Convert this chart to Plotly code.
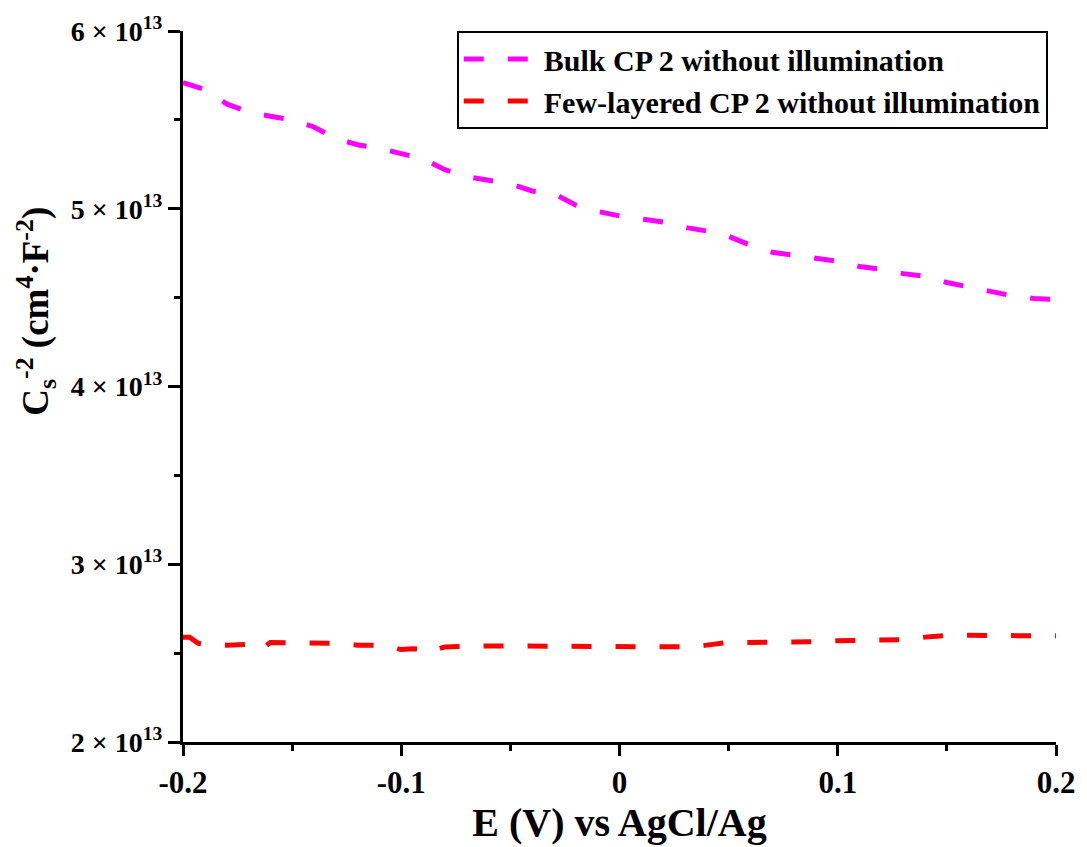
import plotly.graph_objects as go

# ---- data ----
E_bulk = [-0.2, -0.19, -0.18, -0.17, -0.16, -0.15, -0.14, -0.135, -0.13, -0.12, -0.11,
          -0.10, -0.09, -0.08, -0.07, -0.06, -0.05, -0.04, -0.035, -0.03, -0.02, -0.01,
          0.0, 0.01, 0.02, 0.03, 0.04, 0.05, 0.06, 0.07, 0.08, 0.09, 0.10, 0.11, 0.12,
          0.13, 0.14, 0.15, 0.16, 0.17, 0.18, 0.19, 0.20]
C_bulk = [5.71, 5.67, 5.59, 5.545, 5.52, 5.50, 5.46, 5.43, 5.395, 5.36, 5.34,
          5.31, 5.28, 5.22, 5.18, 5.16, 5.14, 5.10, 5.095, 5.085, 5.02, 4.985,
          4.96, 4.945, 4.925, 4.895, 4.875, 4.845, 4.795, 4.755, 4.74, 4.725, 4.705, 4.675, 4.66,
          4.635, 4.62, 4.585, 4.56, 4.53, 4.51, 4.495, 4.49]

E_few = [-0.2, -0.197, -0.193, -0.19, -0.18, -0.17, -0.165, -0.1625, -0.16, -0.15, -0.14,
         -0.13, -0.12, -0.11, -0.105, -0.10, -0.095, -0.09, -0.087, -0.084, -0.08, -0.07,
         -0.06, -0.05, -0.04, -0.03, -0.02, -0.01, 0.0, 0.01, 0.02, 0.03, 0.04, 0.05,
         0.06, 0.07, 0.08, 0.09, 0.10, 0.11, 0.12, 0.13, 0.14, 0.15, 0.16, 0.17, 0.18,
         0.19, 0.20]
C_few = [2.59, 2.59, 2.555, 2.55, 2.545, 2.55, 2.56, 2.535, 2.56, 2.56, 2.56,
         2.555, 2.545, 2.545, 2.535, 2.52, 2.525, 2.52, 2.535, 2.52, 2.535, 2.54,
         2.54, 2.54, 2.54, 2.54, 2.54, 2.535, 2.535, 2.54, 2.54, 2.535, 2.545, 2.56,
         2.56, 2.56, 2.565, 2.565, 2.57, 2.57, 2.57, 2.575, 2.59, 2.60, 2.60, 2.60, 2.60,
         2.597, 2.597]

SCALE = 1e13
y_ticks = [2, 3, 4, 5, 6]
y_ticktext = ["<b>2 × 10<sup>13</sup></b>", "<b>3 × 10<sup>13</sup></b>",
              "<b>4 × 10<sup>13</sup></b>", "<b>5 × 10<sup>13</sup></b>",
              "<b>6 × 10<sup>13</sup></b>"]
x_ticks = [-0.2, -0.1, 0, 0.1, 0.2]
x_ticktext = ["-0.2", "-0.1", "0", "0.1", "0.2"]

FONT = "Liberation Serif"

fig = go.Figure()
fig.add_trace(go.Scatter(
    x=E_bulk, y=[v * SCALE for v in C_bulk], mode="lines",
    name="<b>Bulk CP 2 without illumination</b>",
    line=dict(color="#FF00FF", width=5, dash="20px,24px"),
))
fig.add_trace(go.Scatter(
    x=E_few, y=[v * SCALE for v in C_few], mode="lines",
    name="<b>Few-layered CP 2 without illumination</b>",
    line=dict(color="#FF0000", width=5, dash="20px,24px"),
))

fig.update_layout(
    width=1087, height=847,
    margin=dict(l=183, r=27, t=31, b=105),
    paper_bgcolor="white", plot_bgcolor="white",
    font=dict(family=FONT, color="black"),
    legend=dict(
        x=0.3136, y=1.0, xanchor="left", yanchor="top",
        bordercolor="black", borderwidth=2, bgcolor="white",
        font=dict(family=FONT, size=30, color="black"),
        itemwidth=75, tracegroupgap=0,
    ),
    showlegend=True,
    annotations=[dict(
        text="<b>C<sub>s</sub><sup>-2</sup> (cm<sup>4</sup>·F<sup>-2</sup>)</b>",
        xref="paper", yref="paper", x=-0.1688, y=0.606,
        xanchor="center", yanchor="middle", textangle=-90, showarrow=False,
        font=dict(family=FONT, size=37, color="black"),
    )],
)

fig.update_xaxes(
    range=[-0.2, 0.2], tickvals=x_ticks, ticktext=x_ticktext,
    showgrid=False, zeroline=False,
    showline=True, linecolor="black", linewidth=3, mirror=False,
    ticks="outside", ticklen=11, tickwidth=3, tickcolor="black",
    tickfont=dict(family=FONT, size=31, color="black", weight="bold"),
    minor=dict(dtick=0.05, tick0=-0.2, ticks="outside", ticklen=6, tickwidth=3, tickcolor="black"),
    title=dict(text="<b>E (V) vs AgCl/Ag</b>", font=dict(family=FONT, size=40, color="black"), standoff=6),
)
fig.update_yaxes(
    range=[2 * SCALE, 6 * SCALE], tickvals=[t * SCALE for t in y_ticks], ticktext=y_ticktext,
    showgrid=False, zeroline=False,
    showline=True, linecolor="black", linewidth=3, mirror=False,
    ticks="outside", ticklen=12, tickwidth=3, tickcolor="black",
    tickfont=dict(family=FONT, size=28, color="black", weight="bold"),
    minor=dict(tickvals=[v * SCALE for v in [2.5, 3.5, 4.5, 5.5]], ticks="outside", ticklen=6, tickwidth=3, tickcolor="black"),
)

fig.write_html("out.html")
